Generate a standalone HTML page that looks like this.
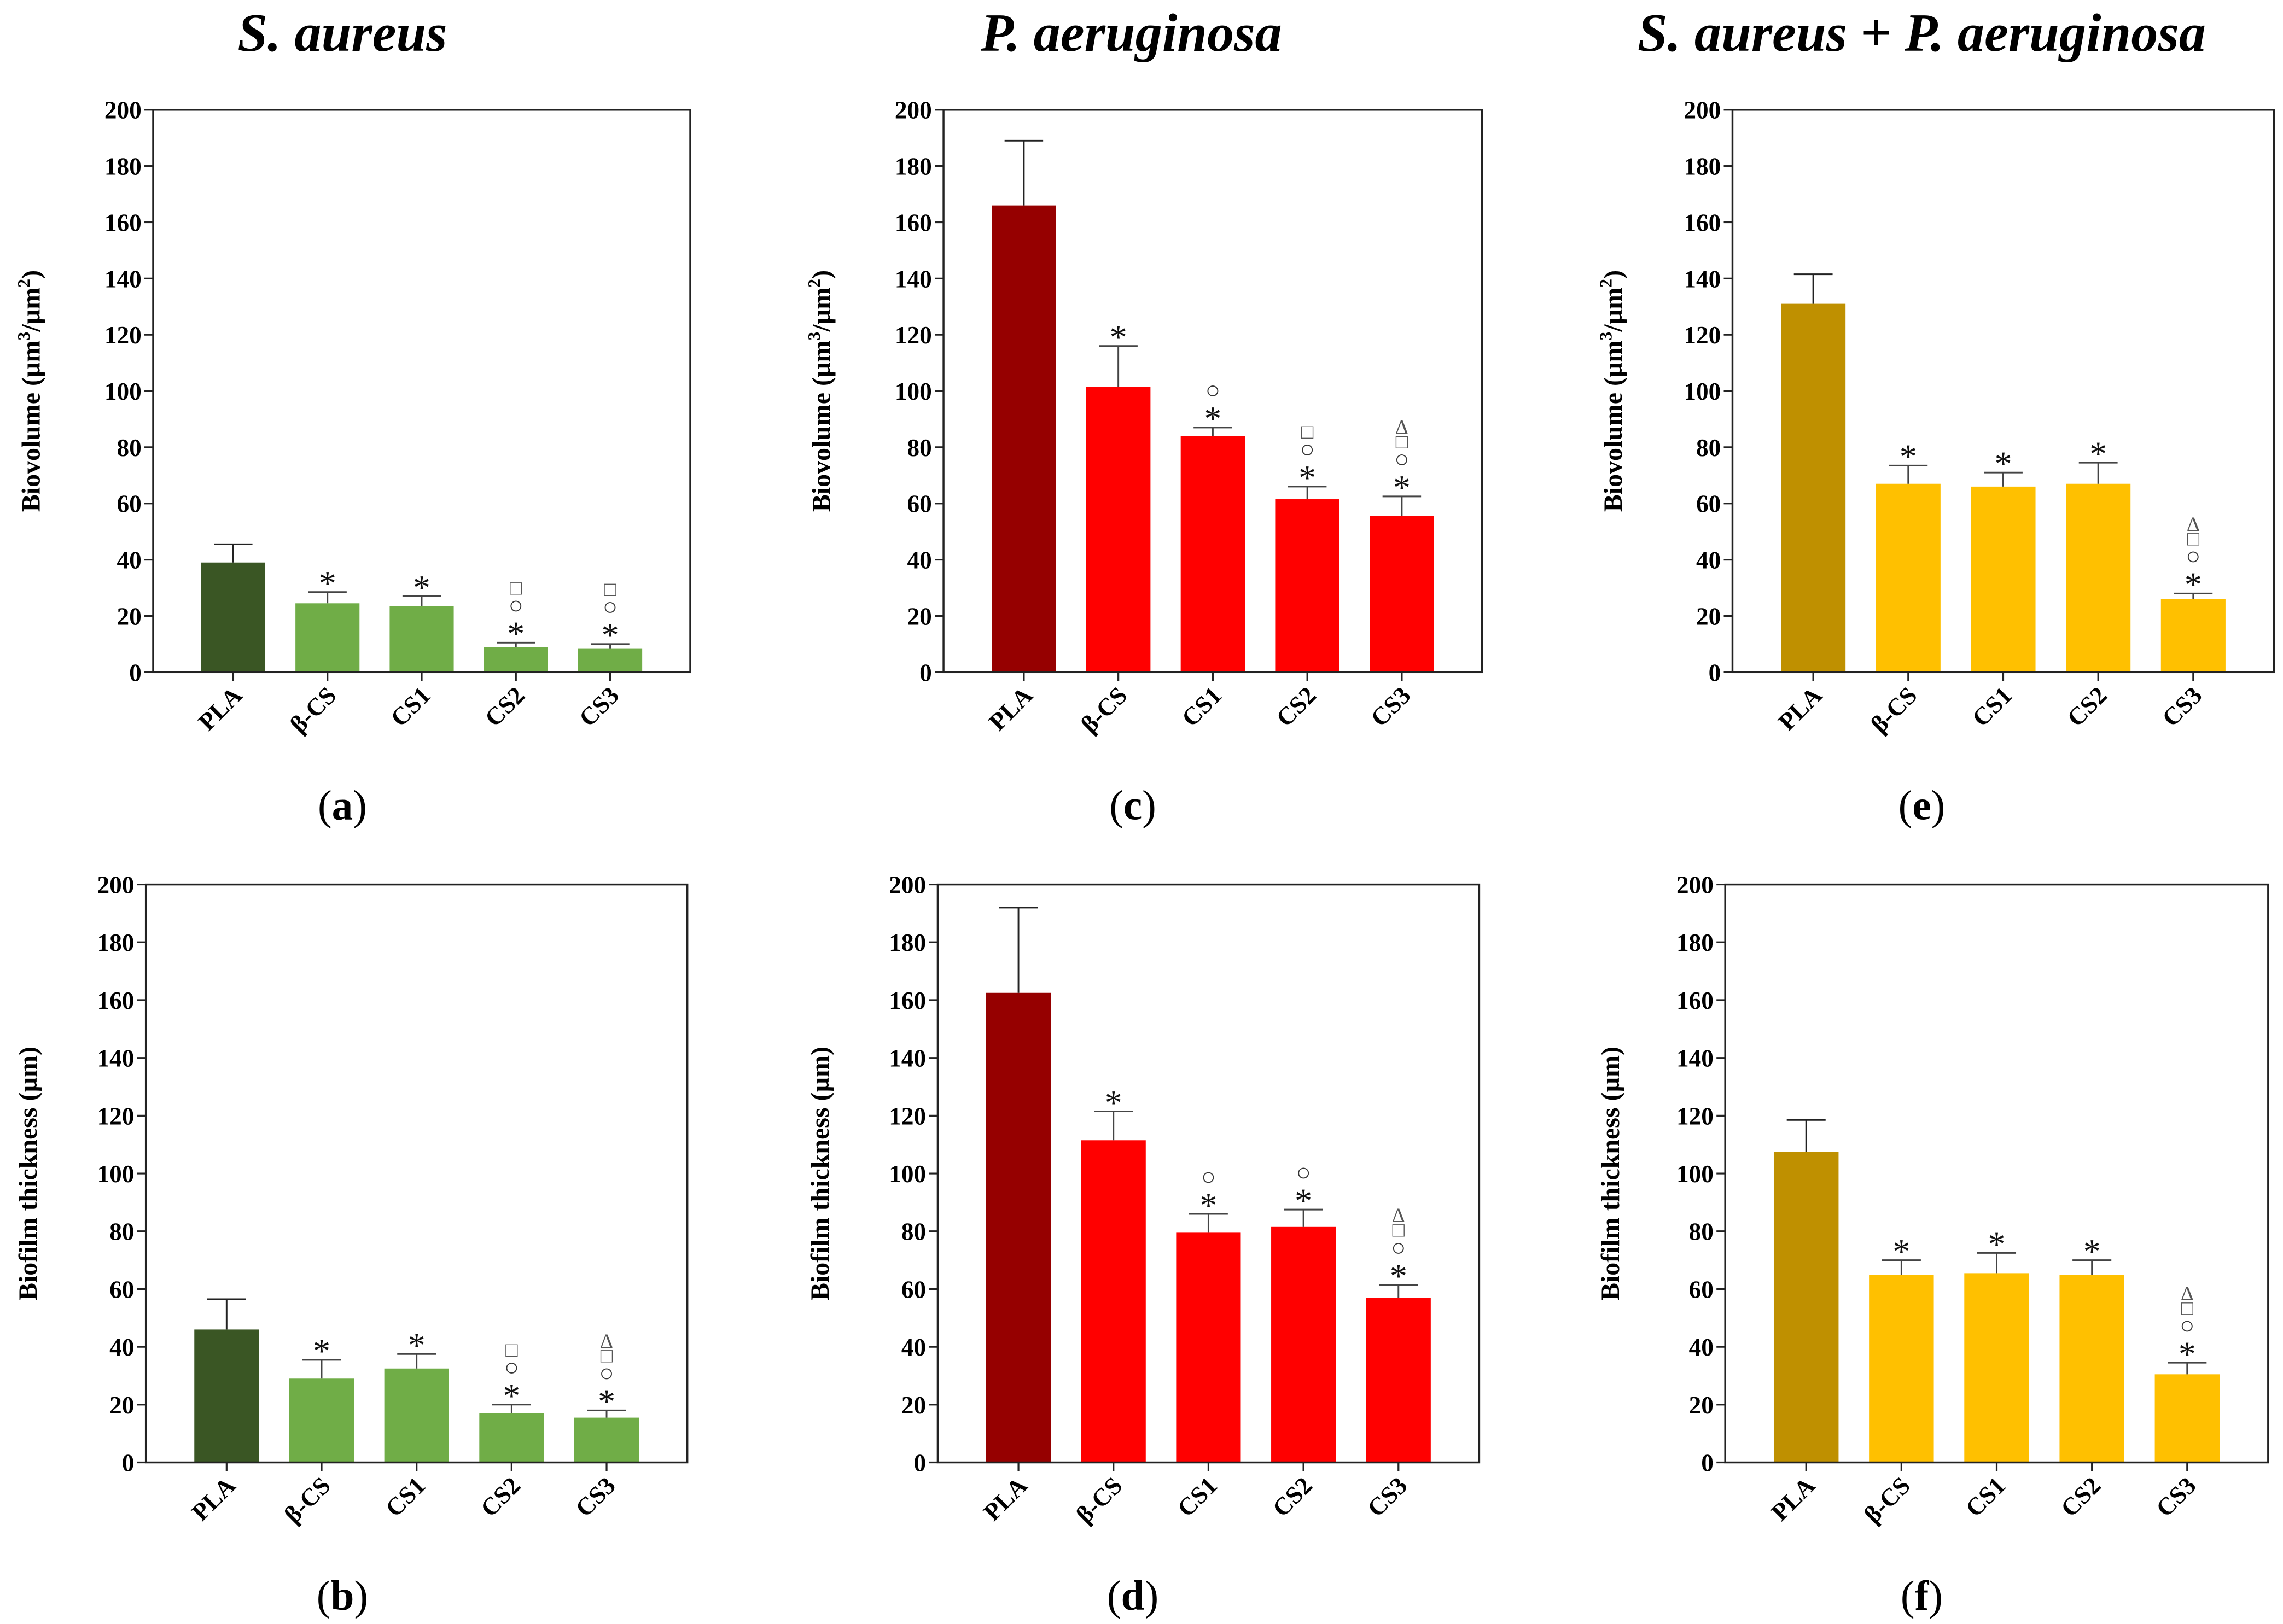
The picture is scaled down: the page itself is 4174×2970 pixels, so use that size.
<!DOCTYPE html>
<html><head><meta charset="utf-8"><style>
html,body{margin:0;padding:0;background:#fff;}
svg{display:block;}
text{font-family:"Liberation Serif",serif;}
</style></head><body>
<svg id="fig" width="4174" height="2970" viewBox="0 0 1568 1116" xmlns="http://www.w3.org/2000/svg">
<rect width="1568" height="1116" fill="#fff"/>
<text x="235" y="35" text-anchor="middle" font-size="37" font-weight="bold" font-style="italic">S. aureus</text>
<text x="777" y="35" text-anchor="middle" font-size="37" font-weight="bold" font-style="italic">P. aeruginosa</text>
<text x="1320" y="35" text-anchor="middle" font-size="37" font-weight="bold" font-style="italic">S. aureus + P. aeruginosa</text>
</svg>
<script>
const categories = ["PLA","β-CS","CS1","CS2","CS3"];
const valsA = [39,24.5,23.5,9,8.5];      const errA = [6.5,4,3.5,1.5,1.5];
const valsC = [166,101.5,84,61.5,55.5];  const errC = [23,14.5,3,4.5,7];
const valsE = [131,67,66,67,26];         const errE = [10.5,6.5,5,7.5,2];
const valsB = [46,29,32.5,17,15.5];      const errB = [10.5,6.5,5,3,2.5];
const valsD = [162.5,111.5,79.5,81.5,57];const errD = [29.5,10,6.5,6,4.5];
const valsF = [107.5,65,65.5,65,30.5];   const errF = [11,5,7,5,4];
const sigA = ["","*","*","*○□","*○□"];
const sigC = ["","*","*○","*○□","*○□Δ"];
const sigE = ["","*","*","*","*○□Δ"];
const sigB = ["","*","*","*○□","*○□Δ"];
const sigD = ["","*","*○","*○","*○□Δ"];
const sigF = ["","*","*","*","*○□Δ"];
const yTicks = [0,20,40,60,80,100,120,140,160,180,200];

const NS="http://www.w3.org/2000/svg";
const svg=document.getElementById('fig');
function mk(tag,attrs,parent){const e=document.createElementNS(NS,tag);for(const k in attrs)e.setAttribute(k,attrs[k]);(parent||svg).appendChild(e);return e;}

const panels=[
 {id:'a',L:105,R:474,T:106,B:649,vals:valsA,err:errA,sig:sigA,c0:'#3a5624',c1:'#70ad47',title:'Biovolume',tx:20,lab:[235,780]},
 {id:'c',L:648,R:1018,T:106,B:649,vals:valsC,err:errC,sig:sigC,c0:'#960000',c1:'#ff0000',title:'Biovolume',tx:563,lab:[778,780]},
 {id:'e',L:1190,R:1562,T:106,B:649,vals:valsE,err:errE,sig:sigE,c0:'#bf9000',c1:'#ffc000',title:'Biovolume',tx:1107,lab:[1320,780]},
 {id:'b',L:100,R:472,T:854,B:1412,vals:valsB,err:errB,sig:sigB,c0:'#3a5624',c1:'#70ad47',title:'Thickness',tx:18,lab:[235,1543]},
 {id:'d',L:644,R:1016,T:854,B:1412,vals:valsD,err:errD,sig:sigD,c0:'#960000',c1:'#ff0000',title:'Thickness',tx:562,lab:[778,1543]},
 {id:'f',L:1185,R:1558,T:854,B:1412,vals:valsF,err:errF,sig:sigF,c0:'#bf9000',c1:'#ffc000',title:'Thickness',tx:1105,lab:[1320,1543]}
];
const YS=1116/1568;
panels.forEach(p=>{
 const T=p.T*YS,B=p.B*YS,L=p.L,R=p.R;
 const g=mk('g',{});
 
 
 const y=v=>B-(v/200)*(B-T);
 const step=(R-L)/5.7;
 const x=i=>L+step*(0.85+i);
 const bw=step*0.68;
 p.vals.forEach((v,i)=>{
  const r=mk('rect',{x:x(i)-bw/2,y:y(v),width:bw,height:B-y(v),fill:i==0?p.c0:p.c1},g);
  
  
  const ey=y(v+p.err[i]);
  const eb=mk('path',{d:`M${x(i)} ${y(v)}V${ey}M${x(i)-bw*0.3} ${ey}H${x(i)+bw*0.3}`,stroke:i==0?'#222':'#444','stroke-width':1.1,fill:'none'},g);
  
  
  const s=p.sig[i];
  let cy=ey-12;
  for(let k=0;k<s.length;k++){
   const ch=s[k];
   let t;
   if(ch=='*'){
    t=mk('text',{x:x(i),y:cy+14,'text-anchor':'middle','font-size':24,fill:'#111','font-family':'"DejaVu Sans",sans-serif'},g);
    cy-=14;
   } else if(ch=='○'){
    t=mk('text',{x:x(i),y:cy+6,'text-anchor':'middle','font-size':17,fill:'#333','font-family':'"DejaVu Sans",sans-serif'},g);
    cy-=12;
   } else {
    t=mk('text',{x:x(i),y:cy+5,'text-anchor':'middle','font-size':14,fill:'#555','font-family':'"DejaVu Sans",sans-serif'},g);
    cy-=10;
   }
   t.textContent=ch;
   
   
  }
  mk('line',{x1:x(i),x2:x(i),y1:B,y2:B+6,stroke:'#222','stroke-width':1.2},g);
  const cl=mk('text',{transform:`translate(${x(i)+7},${B+17}) rotate(-45)`,'text-anchor':'end','font-size':17,'font-weight':'bold'},g);
  cl.textContent=categories[i];
  
  
 });
 const fr=mk('rect',{x:L,y:T,width:R-L,height:B-T,fill:'none',stroke:'#222','stroke-width':1.3},g);
 
 
 yTicks.forEach(v=>{
  mk('line',{x1:L-6,x2:L,y1:y(v),y2:y(v),stroke:'#222','stroke-width':1.2},g);
  const t=mk('text',{x:L-8,y:y(v)+6,'text-anchor':'end','font-size':17,'font-weight':'bold'},g);
  t.textContent=v;
  
  
 });
 const yc=(T+B)/2;
 const yt=mk('text',{transform:`translate(${p.tx+7},${yc}) rotate(-90)`,'text-anchor':'middle','font-size':18,'font-weight':'bold'},g);
 
 
 if(p.title=='Biovolume'){
  yt.innerHTML='Biovolume (µm<tspan dy="-7" font-size="12">3</tspan><tspan dy="7">/µm</tspan><tspan dy="-7" font-size="12">2</tspan><tspan dy="7">)</tspan>';
 } else yt.textContent='Biofilm thickness (µm)';
 const lb=mk('text',{x:p.lab[0],y:p.lab[1]*YS+8,'text-anchor':'middle','font-size':29},g);
 lb.innerHTML='(<tspan font-weight="bold">'+p.id+'</tspan>)';
 
 
});
</script>
</body></html>
